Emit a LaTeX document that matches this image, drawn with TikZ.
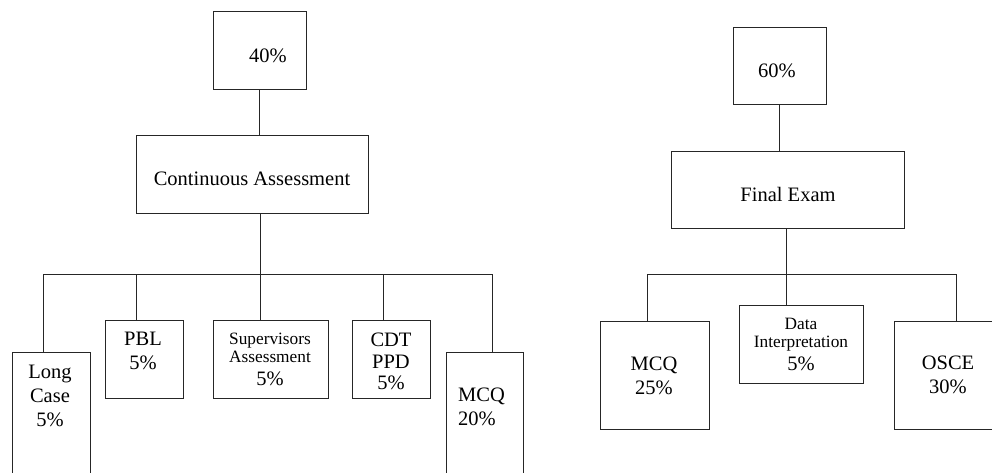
\documentclass[tikz,border=0pt]{standalone}
\usepackage{fontspec}
\setmainfont{Liberation Serif}
\begin{document}
\begin{tikzpicture}[x=1pt,y=-1pt,
  box/.style={draw=black!85, line width=0.9pt, rectangle, inner sep=0pt, outer sep=0pt},
  conn/.style={draw=black!85, line width=0.9pt},
  txt/.style={font=\fontsize{20.5}{24}\selectfont, align=center, inner sep=0pt}]
\useasboundingbox (0,0) rectangle (992,472);
% ---- left tree boxes
\node[box, minimum width=93pt, minimum height=78pt] (b40) at (259.5,50) {};
\node[box, minimum width=232pt, minimum height=78pt] (ca) at (252,174) {};
\node[box, minimum width=78pt, minimum height=128pt] (lc) at (51,416) {};
\node[box, minimum width=78pt, minimum height=78pt] (pbl) at (144,359) {};
\node[box, minimum width=115pt, minimum height=78pt] (sup) at (270.5,359) {};
\node[box, minimum width=78pt, minimum height=78pt] (cdt) at (391,359) {};
\node[box, minimum width=77pt, minimum height=128pt] (mcqa) at (484.5,416) {};
% ---- right tree boxes
\node[box, minimum width=93pt, minimum height=77pt] (b60) at (779.5,65.5) {};
\node[box, minimum width=233pt, minimum height=77pt] (fe) at (787.5,189.5) {};
\node[box, minimum width=109pt, minimum height=108pt] (mcqb) at (654.5,375) {};
\node[box, minimum width=124pt, minimum height=78pt] (di) at (801,344) {};
\node[box, minimum width=109pt, minimum height=108pt] (osce) at (948.5,375) {};
% ---- texts
\node[txt] (t40) at (268,56) {40\%};
\node[txt] (tca) at (252,179) {Continuous Assessment};
\node[txt] (t60) at (777,71) {60\%};
\node[txt] (tfe) at (788,194) {Final Exam};
\node[txt] (tlc) at (50,396) {Long\\Case\\5\%};
\node[txt] (tpbl) at (143,350.5) {PBL\\5\%};
\node[txt] (tsup) at (270,359) {{\fontsize{17.3}{18}\selectfont Supervisors}\\[-6pt]{\fontsize{17.3}{18}\selectfont Assessment}\\[-1pt]5\%};
\node[txt] (tcdt) at (391,361) {CDT\\[-2pt]PPD\\[-3pt]5\%};
\node[txt, align=left, anchor=west] (tmcqa) at (458,407) {MCQ\\20\%};
\node[txt] (tmcqb) at (654,375.5) {MCQ\\25\%};
\node[txt] (tdi) at (801,344) {{\fontsize{17.3}{18}\selectfont Data}\\[-6pt]{\fontsize{17.3}{18}\selectfont Interpretation}\\[-1pt]5\%};
\node[txt] (tosce) at (948,375) {OSCE\\30\%};
% ---- connector points
\coordinate (busL) at (260,274);
\coordinate (busR) at (786,274);
\coordinate (lcin) at ([xshift=-8pt]lc.north);
\coordinate (pblin) at ([xshift=-8pt]pbl.north);
\coordinate (supin) at ([xshift=-10.5pt]sup.north);
\coordinate (cdtin) at ([xshift=-8pt]cdt.north);
\coordinate (mcqain) at ([xshift=7.5pt]mcqa.north);
\coordinate (mcqbin) at ([xshift=-7.5pt]mcqb.north);
\coordinate (diin) at ([xshift=-15pt]di.north);
\coordinate (oscein) at ([xshift=7.5pt]osce.north);
% ---- connectors left
\draw[conn] (b40.south) -- (b40.south |- ca.north);
\draw[conn] (busL |- ca.south) -- (busL);
\draw[conn] (busL) -| (lcin);
\draw[conn] (busL) -| (pblin);
\draw[conn] (busL) -- (supin);
\draw[conn] (busL) -| (cdtin);
\draw[conn] (busL) -| (mcqain);
% ---- connectors right
\draw[conn] (b60.south) -- (b60.south |- fe.north);
\draw[conn] (busR |- fe.south) -- (busR);
\draw[conn] (busR) -| (mcqbin);
\draw[conn] (busR) -- (diin);
\draw[conn] (busR) -| (oscein);
\end{tikzpicture}
\end{document}
